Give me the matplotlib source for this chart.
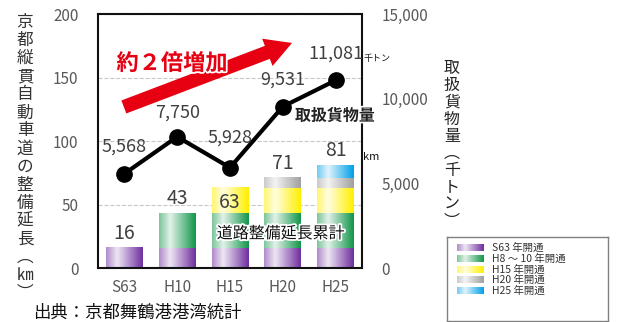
import numpy as np
import matplotlib
matplotlib.use('Agg')
import matplotlib.pyplot as plt
import matplotlib.patheffects as pe
from matplotlib.colors import LinearSegmentedColormap, to_rgb

plt.rcParams['font.family'] = ['Noto Sans CJK JP', 'DejaVu Sans']

years = ['S63', 'H10', 'H15', 'H20', 'H25']
# road length opened per period (km), stacked
seg_names = ['S63 年開通', 'H8 ～ 10 年開通', 'H15 年開通', 'H20 年開通', 'H25 年開通']
seg_s63 = [16, 16, 16, 16, 16]
seg_h10 = [0, 27, 27, 27, 27]
seg_h15 = [0, 0, 20, 20, 20]
seg_h20 = [0, 0, 0, 8, 8]
seg_h25 = [0, 0, 0, 0, 10]
road_total = [16, 43, 63, 71, 81]
cargo = [5568, 7750, 5928, 9531, 11081]

seg_colors = ['#7030A0', '#12964A', '#FFF000', '#A0A0A0', '#00A0E9']
total_dy = [3, 3, -18, 3, 3]
cargo_dy = [13, 11, 15, 13, 13]


def grad_cmap(c):
    r = np.array(to_rgb(c))
    w = np.ones(3)
    return LinearSegmentedColormap.from_list(
        'g', [(0, r * 0.55 + w * 0.45), (0.3, r * 0.12 + w * 0.88), (1, r)])


grad = np.linspace(0, 1, 64).reshape(1, -1)
txt = '#404040'

fig = plt.figure(figsize=(6.17, 3.22), dpi=100)
ax = fig.add_axes([0.1588, 0.1677, 0.4279, 0.7888])
ax2 = ax.twinx()

x = np.arange(len(years))
w = 0.7
segs = [seg_s63, seg_h10, seg_h15, seg_h20, seg_h25]
bottom = np.zeros(len(years))
for seg, col in zip(segs, seg_colors):
    cm = grad_cmap(col)
    for i in range(len(years)):
        if seg[i] > 0:
            ax.imshow(grad, extent=[x[i] - w / 2, x[i] + w / 2, bottom[i], bottom[i] + seg[i]],
                      cmap=cm, aspect='auto', zorder=2, interpolation='bicubic')
    bottom += np.array(seg)

for i, v in enumerate(road_total):
    ax.annotate(str(v), (x[i], v), xytext=(0, total_dy[i]), textcoords='offset points',
                ha='center', va='bottom', fontsize=14, color=txt, zorder=5)

ax.set_xlim(-0.5, 4.5)
ax.set_ylim(0, 200)
ax.set_yticks([0, 50, 100, 150, 200])
ax.set_xticks(x)
ax.set_xticklabels(years)
ax.grid(axis='y', linestyle='--', color='#C8C8C8', linewidth=0.8, zorder=0)
ax.set_axisbelow(True)
ax.tick_params(axis='y', length=0, pad=14, labelsize=11, labelcolor='#595959')
ax.tick_params(axis='x', length=0, pad=8, labelsize=11, labelcolor='#595959')
for s in ax.spines.values():
    s.set_linewidth(1.5)
    s.set_color('#111111')

ax2.plot(x, cargo, color='black', lw=3, marker='o', markersize=11, zorder=4)
ax2.set_ylim(0, 15000)
ax2.set_yticks([0, 5000, 10000, 15000])
ax2.set_yticklabels(['0', '5,000', '10,000', '15,000'])
ax2.tick_params(axis='y', length=0, pad=14, labelsize=11, labelcolor='#595959')
for s in ax2.spines.values():
    s.set_visible(False)
for i, v in enumerate(cargo):
    ax2.annotate(f'{v:,}', (x[i], v), xytext=(0, cargo_dy[i]), textcoords='offset points',
                 ha='center', va='bottom', fontsize=13, color=txt, zorder=5)

# big red arrow
ax2.annotate('', xy=(0.735, 0.886), xytext=(0.098, 0.634), xycoords='axes fraction',
             arrowprops=dict(arrowstyle='simple,head_length=0.95,head_width=1.05,tail_width=0.5',
                             color='#E60012', mutation_scale=20, lw=0,
                             shrinkA=0, shrinkB=0), zorder=3)
ax2.text(0.07, 0.805, '約２倍増加', transform=ax2.transAxes, ha='left', va='center',
         fontsize=16, fontweight='bold', color='#E60012', zorder=6,
         path_effects=[pe.withStroke(linewidth=2.5, foreground='white')])

ax2.text(0.746, 0.60, '取扱貨物量', transform=ax2.transAxes, ha='left', va='center',
         fontsize=11.5, fontweight='bold', color='#222222', zorder=6, clip_on=False,
         path_effects=[pe.withStroke(linewidth=2.5, foreground='white')])
ax2.text(1.007, 0.825, '千トン', transform=ax2.transAxes, ha='left', va='center',
         fontsize=6.5, color='#111111', clip_on=False)
ax2.text(1.003, 0.438, 'km', transform=ax2.transAxes, ha='left', va='center',
         fontsize=8, color='#111111', clip_on=False)
ax2.text(0.45, 0.135, '道路整備延長累計', transform=ax2.transAxes, ha='left', va='center',
         fontsize=11.5, color='#111111', zorder=6,
         path_effects=[pe.withStroke(linewidth=2.5, foreground='white')])

left_label = '\n'.join(list('京都縦貫自動車道の整備延長') + ['︵', '㎞', '︶'])
fig.text(25 / 617, 1 - 158 / 322, left_label, ha='center', va='center', fontsize=12,
         color='#333333', linespacing=1.08)
right_label = '\n'.join(list('取扱貨物量') + ['︵', '千', 'ト', 'ン', '︶'])
fig.text(452 / 617, 1 - 145 / 322, right_label, ha='center', va='center', fontsize=11.5,
         color='#222222', linespacing=1.0)

fig.text(33 / 617, 1 - 313 / 322, '出典：京都舞鶴港港湾統計', ha='left', va='center',
         fontsize=12.5, color='#111111')

# legend box
lax = fig.add_axes([447 / 617, 1 / 322, 161 / 617, 84 / 322])
lax.set_xticks([])
lax.set_yticks([])
for s in lax.spines.values():
    s.set_color('#808080')
    s.set_linewidth(1)
rows = np.linspace(0.87, 0.36, len(seg_names))
for name, col, ry in zip(seg_names, seg_colors, rows):
    lax.imshow(grad, extent=[0.06, 0.225, ry - 0.04, ry + 0.04], cmap=grad_cmap(col),
               aspect='auto', interpolation='bicubic')
    lax.text(0.28, ry, name, ha='left', va='center', fontsize=7.5, color='#333333')
lax.set_xlim(0, 1)
lax.set_ylim(0, 1)

fig.savefig('out.png', dpi=100)
